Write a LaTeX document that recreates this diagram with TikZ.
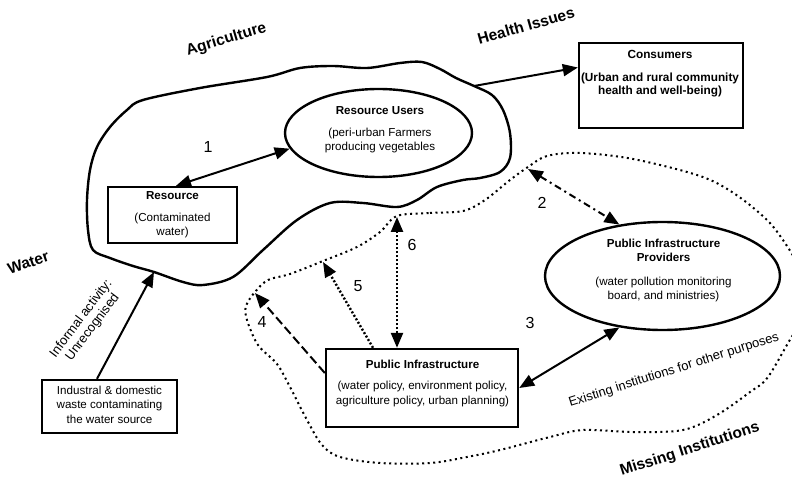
\documentclass[tikz,border=0pt]{standalone}
\usepackage{fontspec}
\setmainfont{Liberation Sans}
\usetikzlibrary{arrows.meta,calc,shapes.geometric}
\begin{document}
\begin{tikzpicture}[x=1pt,y=-1pt,
  box/.style={draw,line width=2.4pt,rectangle,inner sep=0pt},
  ell/.style={draw,line width=2.4pt,ellipse,inner sep=0pt},
  txt/.style={align=center,font=\fontsize{11.6}{14.5}\selectfont,inner sep=0pt},
  big/.style={font=\bfseries\fontsize{15.5}{18}\selectfont,inner sep=0pt,anchor=base},
  num/.style={font=\fontsize{16}{18}\selectfont,inner sep=0pt},
  con/.style={line width=2pt,-{Triangle[length=15pt,width=12pt]}},
  con2/.style={line width=2pt,{Triangle[length=15pt,width=12pt]}-{Triangle[length=15pt,width=12pt]}},
  dotline/.style={dash pattern=on 2pt off 2pt,line width=2.4pt},
  dashline/.style={dash pattern=on 9pt off 4pt},
  dashdotline/.style={dash pattern=on 7pt off 4pt on 2pt off 4pt},
  bound/.style={line width=2pt,dash pattern=on 2pt off 3.5pt},
  cloud/.style={line width=2.4pt}
]
\useasboundingbox (0,0) rectangle (792,486);

% cloud (agriculture area)
\draw[cloud] plot[smooth cycle,tension=0.55] coordinates {
 (143,100) (200,88) (267,77) (300,68) (333,66) (367,68) (400,63) (422,62)
 (440,69) (456,78) (474,86) (492,95) (503,110) (510,133) (510,158) (500,172)
 (480,178) (463,180) (437,187) (417,200) (397,207) (363,203) (330,203)
 (297,220) (263,250) (233,277) (203,285) (183,282) (154,272) (133,266)
 (110,258) (93,250) (88,230) (87,200) (90,170) (97,147) (110,127) (127,110)};
\coordinate (cR) at (474,86);
\coordinate (cB) at (154,272);

% dotted boundary (missing institutions)
\draw[bound] plot[smooth cycle,tension=0.55] coordinates {
 (397,216) (430,213) (463,211) (485,200) (510,180) (528,167) (547,156)
 (580,153) (633,159) (700,176) (735,194) (767,220) (785,243) (800,268)
 (812,295) (808,320) (793,335) (768,377) (750,392) (717,415) (683,430) (633,432)
 (583,430) (550,437) (500,450) (467,457) (430,463) (380,463) (340,457)
 (322,445) (307,420) (290,387) (277,364) (258,345) (247,320) (246,306)
 (255,292) (268,280) (290,274) (323,261) (357,247) (380,232)};
\coordinate (b2) at (528,169);
\coordinate (b4) at (255,293);
\coordinate (b5) at (323,262);
\coordinate (b6) at (397,217);

% shapes
\node[box,minimum width=129pt,minimum height=56pt] (res) at (172.5,215) {};
\node[ell,minimum width=187pt,minimum height=88pt] (users) at (378.5,133) {};
\node[box,minimum width=164pt,minimum height=85pt] (cons) at (661,85.5) {};
\node[ell,minimum width=235pt,minimum height=108pt] (pip) at (662.5,276) {};
\node[box,minimum width=192pt,minimum height=78pt] (pi) at (422,388) {};
\node[box,minimum width=135pt,minimum height=53pt] (ind) at (109.5,406.5) {};

% texts in shapes
\node[txt] (rest) at (172.5,215) {\textbf{Resource}\\[7pt](Contaminated\\water)};
\node[txt] (userst) at (380,130) {\textbf{Resource Users}\\[7pt](peri-urban Farmers\\producing vegetables};
\node[txt,font=\bfseries\fontsize{11.8}{13.5}\selectfont] (const) at (660,74) {Consumers\\[9pt](Urban and rural community\\health and well-being)};
\node[txt] (pipt) at (663.5,270.5) {\textbf{Public Infrastructure}\\\textbf{Providers}\\[9pt](water pollution monitoring\\board, and ministries)};
\node[txt] (pit) at (422.5,383) {\textbf{Public Infrastructure}\\[7pt](water policy, environment policy,\\agriculture policy, urban planning)};
\node[txt] (indt) at (109.5,404.5) {Industral \& domestic\\waste contaminating\\the water source};

% connectors
\draw[con2] ([xshift=3.5pt]res.north) -- (users.190);
\draw[con] (cR) -- ([yshift=18pt]cons.west);
\draw[con2] (pi.east) -- (pip.230);
\draw[con2,dashdotline] (b2) -- (pip.130);
\draw[con,dashline] ([yshift=15pt]pi.west) -- (b4);
\draw[con,dotline] ([xshift=-49pt]pi.north) -- (b5);
\draw[con2,dotline] ([xshift=-25pt]pi.north) -- (b6);
\draw[con] ([xshift=-12.5pt]ind.north) -- (cB);

% numbers
\node[num] (n1) at (208,147) {1};
\node[num] (n2) at (542,203) {2};
\node[num] (n3) at (530,323) {3};
\node[num] (n4) at (262,322) {4};
\node[num] (n5) at (358,286) {5};
\node[num] (n6) at (412,245) {6};

% area labels
\node[big,rotate=16.6] (agri) at (227.5,43.5) {Agriculture};
\node[big,rotate=15.8] (health) at (527.5,31) {Health Issues};
\node[big,rotate=19] (water) at (30,267.5) {Water};
\node[big,rotate=18] (missing) at (691,453.5) {Missing Institutions};
\node[font=\fontsize{13}{15}\selectfont,inner sep=0pt,anchor=base,rotate=17.7] (exist) at (675,373.5) {Existing institutions for other purposes};
\node[font=\fontsize{13}{14.4}\selectfont,align=center,inner sep=0pt,rotate=53] (inf) at (87,323) {Informal activity:\\Unrecognised};
\end{tikzpicture}
\end{document}
